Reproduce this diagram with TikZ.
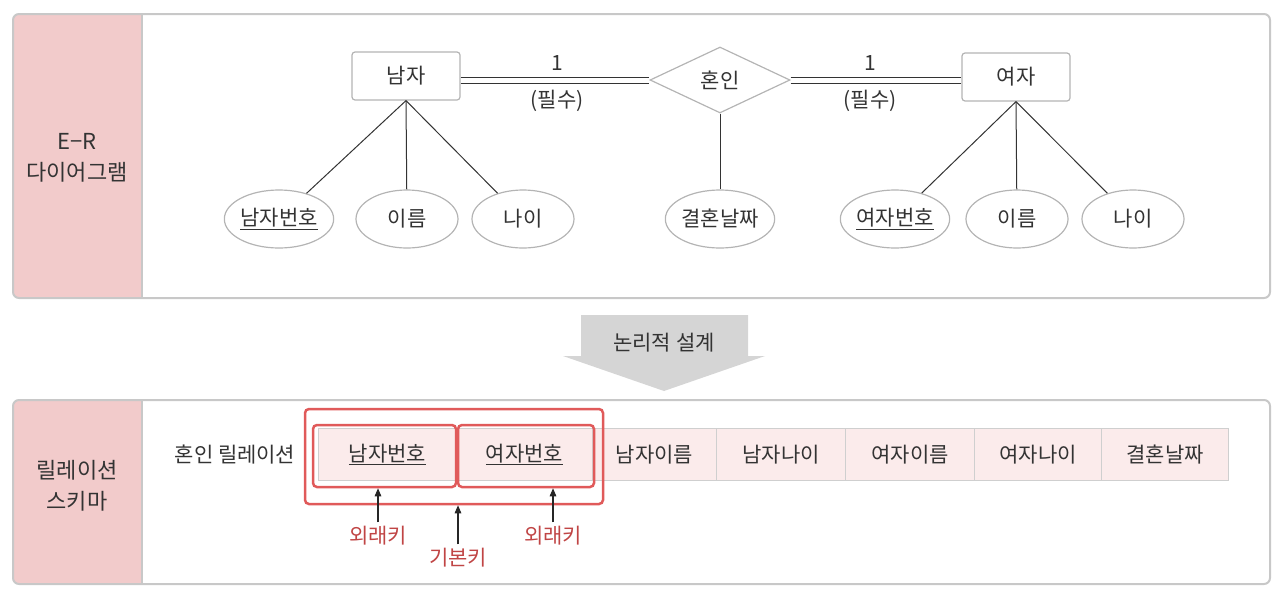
\documentclass[tikz,border=0pt]{standalone}
\usepackage{fontspec}
\setmainfont{Noto Sans CJK KR}
\usetikzlibrary{shapes.geometric,arrows.meta}
\definecolor{pinkpanel}{HTML}{F2CBCB}
\definecolor{panelline}{HTML}{C8C8C8}
\definecolor{boxgray}{HTML}{B4B4B4}
\definecolor{cellgray}{HTML}{CFCFCF}
\definecolor{cellpink}{HTML}{FBEBEB}
\definecolor{redline}{HTML}{E05A5A}
\definecolor{redtext}{HTML}{C04545}
\definecolor{txt}{HTML}{333333}
\definecolor{arrowgray}{HTML}{D5D5D5}
\begin{document}
\begin{tikzpicture}[x=1pt,y=-1pt,
  font=\fontsize{21}{26}\selectfont, text=txt,
  ent/.style={draw=boxgray, line width=1.2pt, rounded corners=3pt, minimum width=108pt, minimum height=48pt, inner sep=0pt},
  rel/.style={diamond, draw=boxgray, line width=1.2pt, shape aspect=2.12, minimum width=140pt, minimum height=66pt, inner sep=0pt},
  attr/.style={ellipse, draw=boxgray, line width=1.2pt, minimum width=102pt, minimum height=58pt, inner sep=0pt},
  erline/.style={draw=txt, line width=1pt},
  cell/.style={draw=cellgray, line width=1pt, fill=cellpink, minimum height=52pt, inner sep=0pt, anchor=west},
  redbox/.style={draw=redline, line width=2.5pt, rounded corners=4pt, inner sep=0pt},
  ptr/.style={-{Triangle[length=8pt,width=6.5pt]}, line width=1.1pt, draw=black!85},
  lbl/.style={text=redtext, inner sep=1pt},
  paneltxt/.style={align=center, font=\fontsize{22}{31}\selectfont}
]
\useasboundingbox (0,0) rectangle (1280,595);

% ---------- panels ----------
\begin{scope}
  \clip[rounded corners=6pt] (13,14) rectangle (1270,298);
  \fill[pinkpanel] (13,14) rectangle (142,298);
\end{scope}
\draw[panelline, line width=2pt, rounded corners=6pt] (13,14) rectangle (1270,298);
\draw[panelline, line width=2pt] (142,14) -- (142,298);

\begin{scope}
  \clip[rounded corners=6pt] (13,400) rectangle (1270,584);
  \fill[pinkpanel] (13,400) rectangle (142,584);
\end{scope}
\draw[panelline, line width=2pt, rounded corners=6pt] (13,400) rectangle (1270,584);
\draw[panelline, line width=2pt] (142,400) -- (142,584);

\node[paneltxt] (p1) at (77,158) {E−R\\다이어그램};
\node[paneltxt] (p2) at (77,486) {릴레이션\\스키마};

% ---------- logical design arrow ----------
\fill[arrowgray] (581,315) -- (748,315) -- (748,356) -- (765,356) -- (664,391) -- (563,356) -- (581,356) -- cycle;
\node (ld) at (664,343) {논리적 설계};

% ---------- E-R diagram ----------
\node[ent] (nam) at (406,76) {남자};
\node[ent] (yeo) at (1016,77) {여자};
\node[rel] (mar) at (720,80) {혼인};

\draw[erline] (nam.east |- 0,77) -- (mar.west |- 0,77);
\draw[erline] (nam.east |- 0,83) -- (mar.west |- 0,83);
\draw[erline] (mar.east |- 0,77) -- (yeo.west |- 0,77);
\draw[erline] (mar.east |- 0,83) -- (yeo.west |- 0,83);

\node (one1) at (557,63) {1};
\node (req1) at (557,101) {(필수)};
\node (one2) at (870,63) {1};
\node (req2) at (870,101) {(필수)};

\node[attr] (a1) at (279,219) {\underline{남자번호}};
\node[attr] (a2) at (407,219) {이름};
\node[attr] (a3) at (523,219) {나이};
\node[attr] (a4) at (720,219) {결혼날짜};
\node[attr] (a5) at (895,219) {\underline{여자번호}};
\node[attr] (a6) at (1017,219) {이름};
\node[attr] (a7) at (1133,219) {나이};

\draw[erline] (nam.south) -- (a1);
\draw[erline] (nam.south) -- (a2);
\draw[erline] (nam.south) -- (a3);
\draw[erline] (mar.south) -- (a4);
\draw[erline] (yeo.south) -- (a5);
\draw[erline] (yeo.south) -- (a6);
\draw[erline] (yeo.south) -- (a7);

% ---------- relation schema ----------
\node (rn) at (235,455) {혼인 릴레이션};

\node[cell, minimum width=138pt] (c1) at (318,454.5) {\underline{남자번호}};
\node[cell, minimum width=136pt] (c2) at (456,454.5) {\underline{여자번호}};
\node[cell, minimum width=124pt] (c3) at (592,454.5) {남자이름};
\node[cell, minimum width=129pt] (c4) at (716,454.5) {남자나이};
\node[cell, minimum width=129pt] (c5) at (845,454.5) {여자이름};
\node[cell, minimum width=127pt] (c6) at (974,454.5) {여자나이};
\node[cell, minimum width=127pt] (c7) at (1101,454.5) {결혼날짜};

\node[redbox, minimum width=143pt, minimum height=62pt] (rb1) at (384.5,456) {};
\node[redbox, minimum width=136pt, minimum height=62pt] (rb2) at (526,456) {};
\node[redbox, minimum width=298pt, minimum height=95pt] (ro) at (454,456.5) {};

\node[lbl] (fk1) at (378,536) {외래키};
\node[lbl] (pk) at (458,558) {기본키};
\node[lbl] (fk2) at (553,536) {외래키};

\draw[ptr] ([yshift=3pt]fk1.north) -- (fk1.north |- rb1.south);
\draw[ptr] ([yshift=3pt]pk.north) -- (pk.north |- ro.south);
\draw[ptr] ([yshift=3pt]fk2.north) -- (fk2.north |- rb2.south);
\end{tikzpicture}
\end{document}
